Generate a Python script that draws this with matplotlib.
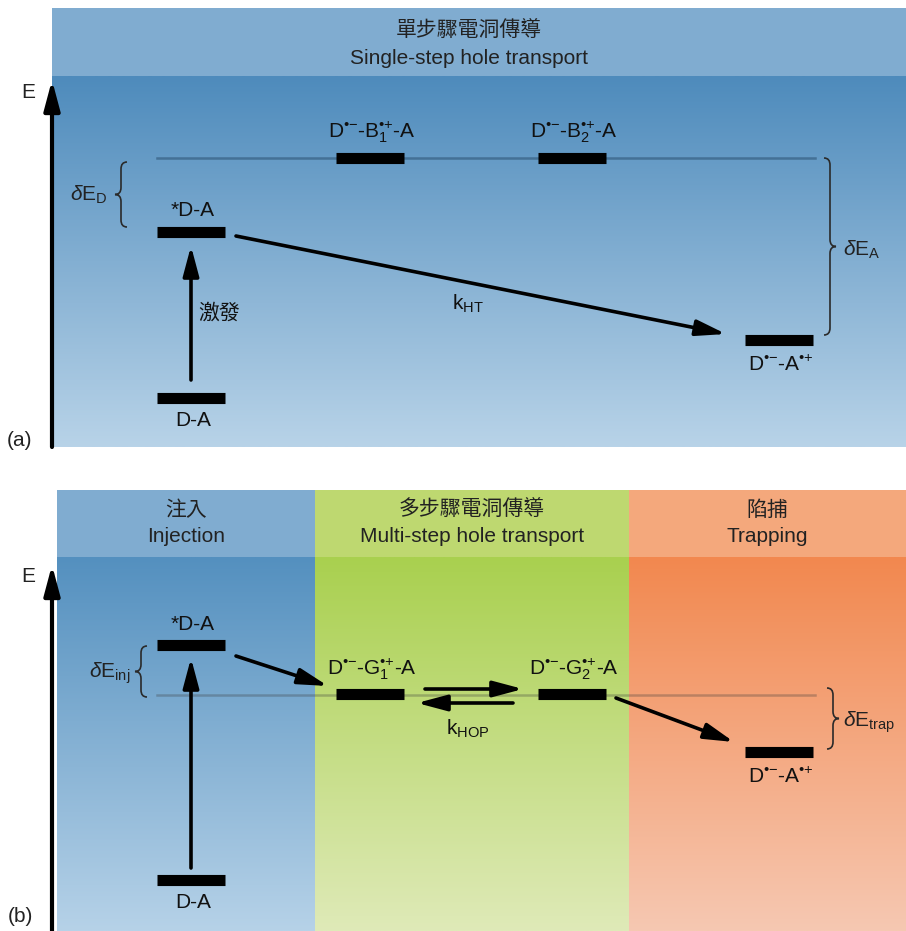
import numpy as np
import matplotlib
matplotlib.use("Agg")
import matplotlib.pyplot as plt
from matplotlib.path import Path
from matplotlib.patches import PathPatch
from matplotlib.colors import to_rgb

plt.rcParams['font.family'] = ['Liberation Sans', 'Noto Sans CJK TC', 'DejaVu Sans']
plt.rcParams['mathtext.fontset'] = 'custom'
plt.rcParams['mathtext.rm'] = 'Liberation Sans'
plt.rcParams['mathtext.it'] = 'Liberation Sans:italic'
plt.rcParams['mathtext.bf'] = 'Liberation Sans:bold'

# ---------------- data ----------------
# panel (a): single-step
a_header_zh = "單步驟電洞傳導"
a_header_en = "Single-step hole transport"
a_labels = ["*D-A", "D-A", r"D$^{•{−}}$-B$_1^{•{+}}$-A", r"D$^{•{−}}$-B$_2^{•{+}}$-A", r"D$^{•{−}}$-A$^{•{+}}$"]
a_x = [191, 191, 370, 572, 779]
a_E = [232, 398, 158, 158, 340]
a_label_dy = [-22, 23, -26, -26, 25]
a_bridge_E = 158

# panel (b): multi-step
b_cols_zh = ["注入", "多步驟電洞傳導", "陷捕"]
b_cols_en = ["Injection", "Multi-step hole transport", "Trapping"]
b_labels = ["*D-A", "D-A", r"D$^{•{−}}$-G$_1^{•{+}}$-A", r"D$^{•{−}}$-G$_2^{•{+}}$-A", r"D$^{•{−}}$-A$^{•{+}}$"]
b_x = [191, 191, 370, 572, 779]
b_E = [645, 880, 694, 694, 752]
b_label_dy = [-21, 22, -25, -25, 25]
b_bridge_E = 695

fig = plt.figure(figsize=(9.06, 9.31), dpi=100)
ax = fig.add_axes([0, 0, 1, 1])


def grad(x0, x1, ytop, ybot, ctop, cbot):
    c0 = np.array(to_rgb(ctop)); c1 = np.array(to_rgb(cbot))
    t = np.linspace(0, 1, 256)[:, None]
    img = (c0[None, :] * (1 - t) + c1[None, :] * t)[:, None, :]
    ax.imshow(img, extent=[x0, x1, ybot, ytop], origin='upper', aspect='auto',
              interpolation='bilinear', zorder=0)


def rect(x0, x1, ytop, ybot, c):
    ax.fill_between([x0, x1], ytop, ybot, color=c, lw=0, zorder=0.5)


def brace(xc, y1, y2, w, side):
    s = 1 if side == 'right' else -1
    mid = (y1 + y2) / 2
    q = 7
    xm = xc + s * w / 2
    xt = xc + s * w
    verts = [(xc, y1), (xm, y1), (xm, y1 + q),
             (xm, mid - q), (xm, mid), (xt, mid),
             (xm, mid), (xm, mid + q),
             (xm, y2 - q), (xm, y2), (xc, y2)]
    codes = [Path.MOVETO, Path.CURVE3, Path.CURVE3,
             Path.LINETO, Path.CURVE3, Path.CURVE3,
             Path.CURVE3, Path.CURVE3,
             Path.LINETO, Path.CURVE3, Path.CURVE3]
    ax.add_patch(PathPatch(Path(verts, codes), fill=False, lw=1.2, ec='#2a2a2a', zorder=3))


def arrow(p0, p1, lw=2.6):
    ax.annotate('', xy=p1, xytext=p0,
                arrowprops=dict(arrowstyle='-|>,head_length=0.9,head_width=0.24',
                                lw=lw, color='k', shrinkA=0, shrinkB=0,
                                mutation_scale=20), zorder=5)


def level(x, y):
    ax.plot([x - 34, x + 34], [y, y], color='k', lw=8, solid_capstyle='butt', zorder=4)


FS = 15
TC = '#222222'

# ---------------- panel (a) ----------------
rect(52, 906, 8, 76, '#80acd0')
grad(52, 906, 76, 447, '#4e8bbc', '#b8d3e8')
ax.text(469, 31, a_header_zh, ha='center', va='center', fontsize=FS, color=TC)
ax.text(469, 58, a_header_en, ha='center', va='center', fontsize=FS, color=TC)

ax.plot([157, 815], [a_bridge_E, a_bridge_E], color='#1d3f5e', alpha=0.45, lw=1.8, zorder=2)
for lab, x, e, dy in zip(a_labels, a_x, a_E, a_label_dy):
    level(x, e)
    ax.text(x + 2, e + dy, lab, ha='center', va='center', fontsize=FS, color='#111111', zorder=6)

arrow((191, 380), (191, 246))
ax.text(219, 313, "激發", ha='center', va='center', fontsize=FS, color='#111111')
arrow((236, 236), (726, 334))
ax.text(468, 304, r"k$_{\mathrm{HT}}$", ha='center', va='center', fontsize=FS, color='#111111')

brace(127, 162, 227, 12, 'left')
ax.text(89, 195, r"$\delta$E$_{\mathrm{D}}$", ha='center', va='center', fontsize=FS, color=TC)
brace(824, 158, 335, 12, 'right')
ax.text(862, 250, r"$\delta$E$_{\mathrm{A}}$", ha='center', va='center', fontsize=FS, color=TC)

arrow((52, 447), (52, 80), lw=3)
ax.text(28, 93, "E", ha='center', va='center', fontsize=FS, color=TC)
ax.text(20, 440, "(a)", ha='center', va='center', fontsize=FS, color=TC)

# ---------------- panel (b) ----------------
col_edges = [57, 315, 629, 906]
head_cols = ['#80acd0', '#bed870', '#f4a87c']
top_cols = ['#5490bf', '#a9d04f', '#f2884f']
bot_cols = ['#b6d2e8', '#dfeab8', '#f6c8b2']
for i in range(3):
    rect(col_edges[i], col_edges[i + 1], 490, 557, head_cols[i])
    grad(col_edges[i], col_edges[i + 1], 557, 931, top_cols[i], bot_cols[i])
    xc = (col_edges[i] + col_edges[i + 1]) / 2
    ax.text(xc, 510, b_cols_zh[i], ha='center', va='center', fontsize=FS, color=TC)
    ax.text(xc, 537, b_cols_en[i], ha='center', va='center', fontsize=FS, color=TC)

ax.plot([157, 815], [b_bridge_E, b_bridge_E], color='#3a3a3a', alpha=0.3, lw=1.8, zorder=2)
for lab, x, e, dy in zip(b_labels, b_x, b_E, b_label_dy):
    level(x, e)
    ax.text(x + 2, e + dy, lab, ha='center', va='center', fontsize=FS, color='#111111', zorder=6)

arrow((191, 868), (191, 658))
arrow((236, 656), (328, 686))
arrow((425, 689), (523, 689))
arrow((513, 703), (417, 703))
ax.text(468, 729, r"k$_{\mathrm{HOP}}$", ha='center', va='center', fontsize=FS, color='#111111')
arrow((616, 698), (734, 742))

brace(147, 646, 697, 12, 'left')
ax.text(110, 673, r"$\delta$E$_{\mathrm{inj}}$", ha='center', va='center', fontsize=FS, color=TC)
brace(827, 688, 749, 12, 'right')
ax.text(869, 722, r"$\delta$E$_{\mathrm{trap}}$", ha='center', va='center', fontsize=FS, color=TC)

arrow((52, 931), (52, 565), lw=3)
ax.text(28, 577, "E", ha='center', va='center', fontsize=FS, color=TC)
ax.text(20, 917, "(b)", ha='center', va='center', fontsize=FS, color=TC)

ax.set_xlim(0, 906)
ax.set_ylim(931, 0)
ax.axis('off')
fig.savefig("out.png", dpi=100)
